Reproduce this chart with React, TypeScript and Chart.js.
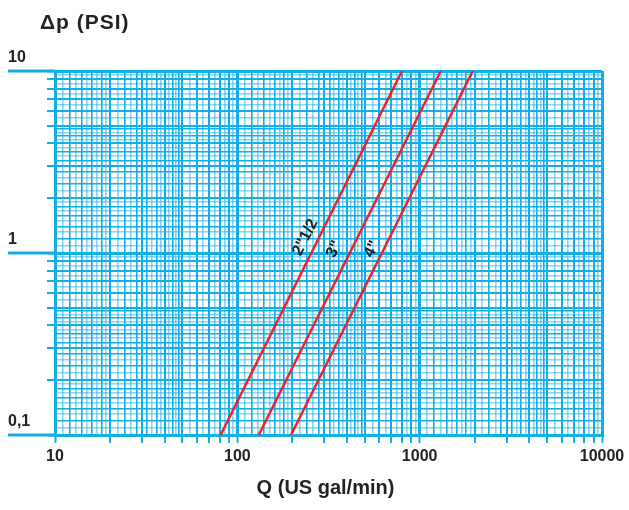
import { useEffect, useRef } from 'react';
import { Chart, registerables } from 'chart.js';

Chart.register(...registerables);

// ---- data ----
const xTickValues = [10, 100, 1000, 10000];
const xTickLabels = ['10', '100', '1000', '10000'];
const yTickValues = [0.1, 1, 10];
const yTickLabels = ['0,1', '1', '10'];

const seriesNames = ['2"1/2', '3"', '4"'];
const seriesQ = [
  [81, 800],
  [131, 1305],
  [197, 1955],
];
const seriesDp = [
  [0.1, 10],
  [0.1, 10],
  [0.1, 10],
];
const labelQ = [236, 340, 548];
const labelDp = [1.22, 1.05, 1.05];

const xTitle = 'Q (US gal/min)';
const yTitle = 'Δp (PSI)';

// ---- style ----
const CYAN = '#12aee8';
const CYAN_LIGHT = 'rgba(18,174,232,0.5)';
const RED = '#e5262c';
const TEXT = '#222222';
const FONT = '"Liberation Sans", Arial, Helvetica, sans-serif';

// log-paper subdivision of one decade: [kStart, kEnd (excl.), divisor] -> mantissa k/divisor
const decadeParts = [
  [10, 20, 10],
  [10, 25, 5],
  [10, 20, 2],
];

type GTick = { value: number; kind: number; label?: string };

function buildGridTicks(min: number, max: number): GTick[] {
  const ticks: GTick[] = [];
  const e0 = Math.round(Math.log10(min));
  const e1 = Math.round(Math.log10(max));
  for (let e = e0; e < e1; e++) {
    const p = Math.pow(10, e);
    decadeParts.forEach(([a, b, d], pi) => {
      for (let k = a; k < b; k++) {
        const m = k / d;
        let kind: number;
        if (pi === 0 && k === a) kind = 0;
        else if (Number.isInteger(m)) kind = 1;
        else kind = k % 2 === 0 ? 2 : 3;
        ticks.push({ value: pi === 0 && k === a ? p : m * p, kind });
      }
    });
  }
  ticks.push({ value: max, kind: 0 });
  return ticks;
}

function labelFor(value: number, values: number[], labels: string[]) {
  for (let i = 0; i < values.length; i++) {
    if (Math.abs(Math.log10(value) - Math.log10(values[i])) < 1e-6) return labels[i];
  }
  return '';
}

const gridColor = (ctx: any) => {
  const k = ctx.tick ? ctx.tick.kind : 2;
  return k === 3 ? CYAN_LIGHT : CYAN;
};
const gridWidth = (ctx: any) => {
  const k = ctx.tick ? ctx.tick.kind : 2;
  if (k === 0) return 3;
  if (k === 1) return 2;
  return 1.6;
};
const tickColor = (ctx: any) => {
  const k = ctx.tick ? ctx.tick.kind : 2;
  return k <= 1 ? CYAN : 'rgba(0,0,0,0)';
};

const decorPlugin = {
  id: 'decor',
  beforeDatasetsDraw(chart: any) {
    const ys = chart.scales.y;
    const ctx = chart.ctx;
    ctx.save();
    ctx.strokeStyle = CYAN;
    ctx.lineWidth = 3;
    yTickValues.forEach((v) => {
      const py = ys.getPixelForValue(v);
      ctx.beginPath();
      ctx.moveTo(ys.left, py);
      ctx.lineTo(chart.chartArea.left, py);
      ctx.stroke();
    });
    ctx.restore();
  },
  afterDatasetsDraw(chart: any) {
    const xs = chart.scales.x;
    const ys = chart.scales.y;
    const ctx = chart.ctx;
    ctx.save();
    ctx.font = `bold 16px ${FONT}`;
    ctx.fillStyle = TEXT;
    ctx.textAlign = 'center';
    ctx.textBaseline = 'middle';
    seriesNames.forEach((name, i) => {
      const x0 = xs.getPixelForValue(seriesQ[i][0]);
      const y0 = ys.getPixelForValue(seriesDp[i][0]);
      const x1 = xs.getPixelForValue(seriesQ[i][1]);
      const y1 = ys.getPixelForValue(seriesDp[i][1]);
      const ang = Math.atan2(y1 - y0, x1 - x0);
      ctx.save();
      ctx.translate(xs.getPixelForValue(labelQ[i]), ys.getPixelForValue(labelDp[i]));
      ctx.rotate(ang);
      ctx.fillText(name, 0, 0);
      ctx.restore();
    });
    ctx.restore();
  },
  afterDraw(chart: any) {
    const ctx = chart.ctx;
    const area = chart.chartArea;
    ctx.save();
    ctx.fillStyle = TEXT;
    ctx.textBaseline = 'alphabetic';
    ctx.font = `bold 21px ${FONT}`;
    (ctx as any).letterSpacing = '1px';
    ctx.textAlign = 'left';
    ctx.fillText(yTitle, 40, 29);
    (ctx as any).letterSpacing = '0px';
    ctx.font = `bold 20px ${FONT}`;
    ctx.textAlign = 'center';
    ctx.fillText(xTitle, (area.left + area.right) / 2 - 3, 494);
    ctx.restore();
  },
};

export default function App() {
  const canvasRef = useRef<HTMLCanvasElement | null>(null);

  useEffect(() => {
    document.body.style.margin = '0';
    const canvas = canvasRef.current;
    if (!canvas) return;
    const chart = new Chart(canvas, {
      type: 'line',
      data: {
        datasets: seriesNames.map((name, i) => ({
          label: name,
          data: seriesQ[i].map((q, j) => ({ x: q, y: seriesDp[i][j] })),
          borderColor: RED,
          borderWidth: 2.5,
          pointRadius: 0,
          fill: false,
          tension: 0,
        })),
      },
      options: {
        animation: false,
        responsive: false,
        maintainAspectRatio: false,
        devicePixelRatio: 1,
        layout: { padding: { top: 71, left: 8, right: 27, bottom: 0 } },
        plugins: {
          legend: { display: false },
          tooltip: { enabled: false },
          title: { display: false },
        },
        scales: {
          x: {
            type: 'logarithmic',
            min: 10,
            max: 10000,
            afterBuildTicks: (s: any) => {
              s.ticks = buildGridTicks(10, 10000);
            },
            afterFit: (s: any) => {
              s.height = 75;
              s.paddingLeft = 0;
              s.paddingRight = 0;
            },
            grid: {
              color: gridColor,
              lineWidth: gridWidth,
              drawTicks: true,
              tickLength: 8,
              tickColor: tickColor,
              tickWidth: 2,
            },
            border: { display: true, color: CYAN, width: 3 },
            ticks: {
              autoSkip: false,
              maxRotation: 0,
              minRotation: 0,
              padding: 4,
              color: TEXT,
              font: { family: FONT, size: 16, weight: 'bold' },
              callback: (value: any, index: number, ticks: any[]) =>
                ticks[index] && ticks[index].kind === 0
                  ? labelFor(Number(value), xTickValues, xTickLabels)
                  : '',
            },
          },
          y: {
            type: 'logarithmic',
            min: 0.1,
            max: 10,
            afterBuildTicks: (s: any) => {
              s.ticks = buildGridTicks(0.1, 10);
            },
            afterFit: (s: any) => {
              s.width = 47;
              s.paddingTop = 0;
              s.paddingBottom = 0;
            },
            grid: {
              color: gridColor,
              lineWidth: gridWidth,
              drawTicks: true,
              tickLength: 8,
              tickColor: tickColor,
              tickWidth: 2,
            },
            border: { display: true, color: CYAN, width: 3 },
            ticks: {
              autoSkip: false,
              crossAlign: 'far',
              labelOffset: -13,
              padding: 4,
              color: TEXT,
              font: { family: FONT, size: 16, weight: 'bold' },
              callback: (value: any, index: number, ticks: any[]) =>
                ticks[index] && ticks[index].kind === 0
                  ? labelFor(Number(value), yTickValues, yTickLabels)
                  : '',
            },
          },
        },
      } as any,
      plugins: [decorPlugin],
    });
    return () => chart.destroy();
  }, []);

  return (
    <div style={{ width: 629, height: 510 }}>
      <canvas ref={canvasRef} width={629} height={510} style={{ display: 'block' }} />
    </div>
  );
}
